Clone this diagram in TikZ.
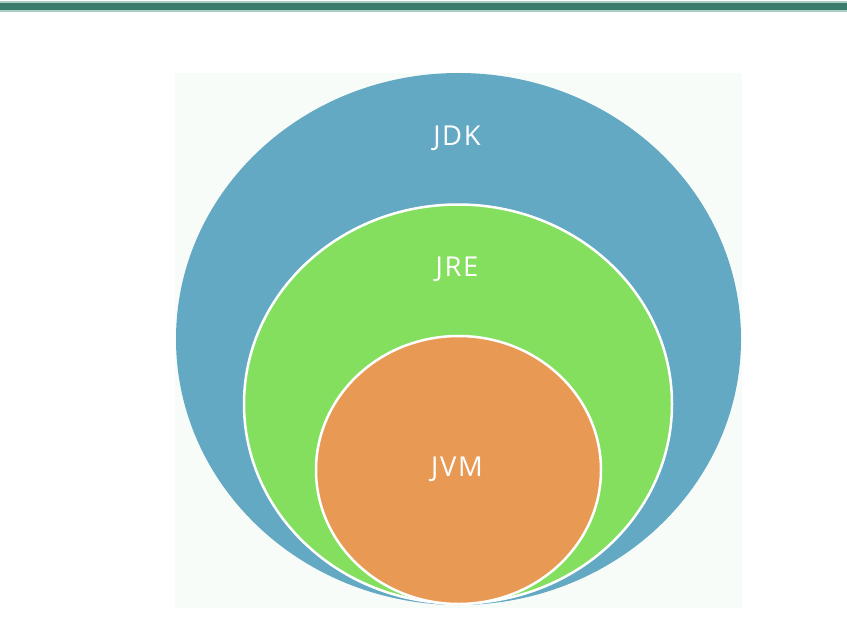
\documentclass[tikz,border=0pt]{standalone}
\usepackage{fontspec}
\setmainfont{Open Sans}[LetterSpace=6]
\usetikzlibrary{shapes.geometric}

\definecolor{barGreen}{HTML}{3A7B6B}
\definecolor{barEdge}{HTML}{A9CFC3}
\definecolor{paleBg}{HTML}{F8FCF9}
\definecolor{jdkBlue}{HTML}{64A9C3}
\definecolor{jreGreen}{HTML}{84DF5F}
\definecolor{jvmOrange}{HTML}{E89A55}

\tikzset{
  ring/.style={ellipse, inner sep=0pt},
  ringlabel/.style={text=white, font=\fontsize{27.5}{32}\selectfont}
}

\begin{document}
\begin{tikzpicture}[x=1bp,y=-1bp]
      \useasboundingbox (0,0) rectangle (847,636);
      \fill[white] (0,0) rectangle (847,636);

      % header bar
      \fill[barEdge] (0,1) rectangle (847,12);
      \fill[barGreen] (0,3) rectangle (847,10);

      \fill[paleBg] (175,73) rectangle (742,608);

      \node[ring,fill=jdkBlue,minimum width=565bp,minimum height=532bp] (jdk) at (458.5,339) {};
      \node[ring,fill=jreGreen,draw=white,line width=2.5bp,minimum width=428bp,minimum height=399bp] (jre) at (458,404) {};
      \node[ring,fill=jvmOrange,draw=white,line width=2.5bp,minimum width=285bp,minimum height=268bp] (jvm) at (458.5,470) {};

      \node[ringlabel] (jdkText) at (457,138) {JDK};
      \node[ringlabel] (jreText) at (457,269) {JRE};
      \node[ringlabel] (jvmText) at (457,469) {JVM};
\end{tikzpicture}
\end{document}
